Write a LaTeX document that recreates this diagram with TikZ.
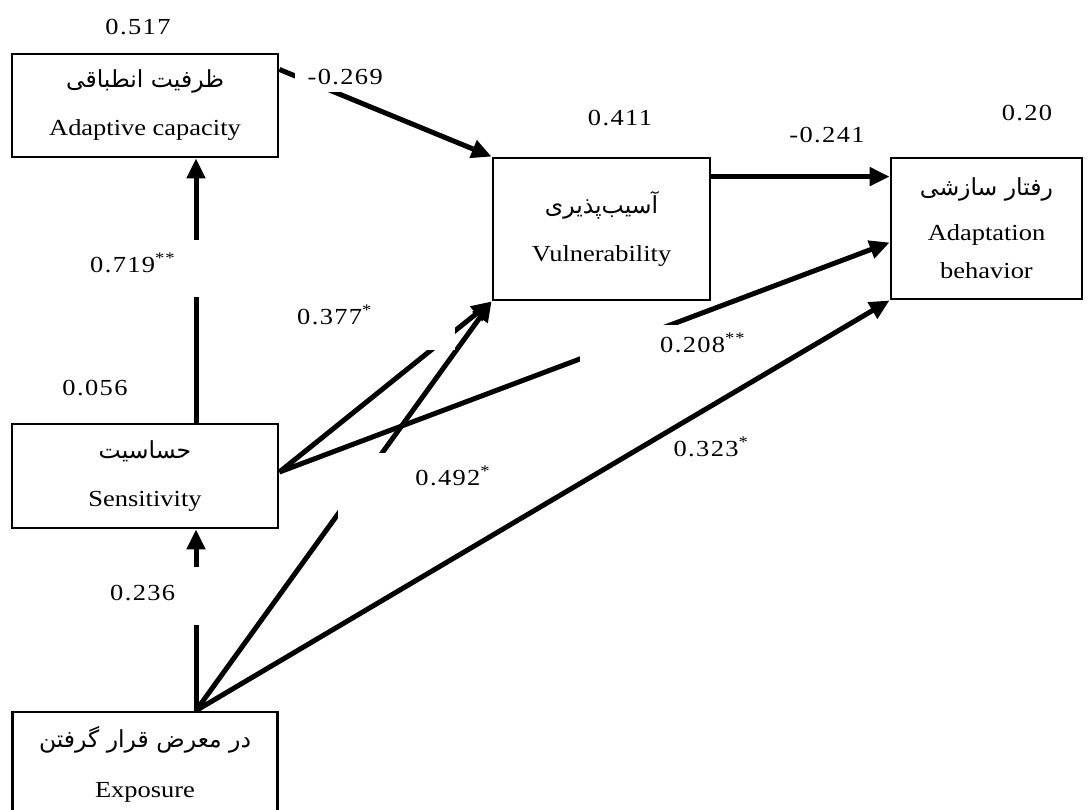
\documentclass[tikz,border=0pt]{standalone}
\usepackage{fontspec}
\setmainfont{Liberation Serif}[FakeStretch=1.15]
\newfontfamily\farsi[Script=Arabic]{DejaVu Sans}
\TeXXeTstate=1
\usetikzlibrary{arrows.meta}

\newcommand{\fa}[1]{{\farsi\fontsize{23.5}{28}\selectfont\beginR #1\endR}}
\newcommand{\boxfont}{\fontsize{23}{28}\selectfont}
\newcommand{\coeffont}{\fontsize{23}{28}\selectfont\addfontfeature{LetterSpace=6}}

\tikzset{
  box/.style={draw, line width=2.8pt, align=center, inner sep=0pt, font=\boxfont},
  coef/.style={inner sep=0pt, font=\coeffont},
  mask/.style={coef, fill=white, anchor=north west},
  arr/.style={line width=5pt, -{Triangle[length=20pt,width=18pt]}},
}

\begin{document}
\begin{tikzpicture}[x=1pt, y=-1pt]
      \useasboundingbox (0,0) rectangle (1089,810);
      % constructs
      \node[box, minimum width=266pt, minimum height=103pt] (adapt) at (145,105.5)
        {\fa{ظرفیت انطباقی}\\[20pt]Adaptive capacity};
      \node[box, minimum width=217pt, minimum height=142pt] (vuln) at (601.5,229)
        {\fa{آسیب‌پذیری}\\[20pt]Vulnerability};
      \node[box, minimum width=191pt, minimum height=141pt] (behav) at (986.5,228.5)
        {\fa{رفتار سازشی}\\[17pt]Adaptation\\[10pt]behavior};
      \node[box, minimum width=266pt, minimum height=104pt] (sens) at (145,476)
        {\fa{حساسیت}\\[20pt]Sensitivity};
      \node[box, minimum width=265pt, minimum height=104pt] (expo) at (145,764)
        {\fa{در معرض قرار گرفتن}\\[22pt]Exposure};
      \coordinate (apex) at ([xshift=51pt]expo.north);
      % paths
      \begin{scope}[arr]
        \draw (adapt.15) to (vuln.north west);
        \draw ([yshift=-20pt]vuln.north east) to ([yshift=-20pt]behav.north west);
        \draw ([yshift=4pt]sens.east) to (vuln.south west);
        \draw ([yshift=4pt]sens.east) to ([yshift=-14pt]behav.west);
        \draw (apex |- sens.north) to (apex |- adapt.south);
        \draw (apex) to (apex |- sens.south);
        \draw (apex) to (vuln.south west);
        \draw (apex) to (behav.south west);
      \end{scope}
      % coefficients and R2
      \node[coef] (r2adapt) at (138,27) {0.517};
      \node[coef] (r2vuln) at (620,118) {0.411};
      \node[coef] (r2behav) at (1027,113) {0.20};
      \node[coef] (r2sens) at (95,388) {0.056};
      \node[coef] (bvb) at (827,135) {-0.241};
      \node[coef] (beb) at (711,447) {0.323\textsuperscript{*}};
      \node[mask, text width=100pt, align=center, text height=26pt, text depth=8pt] (bav) at (295,58) {-0.269};
      \node[mask, inner xsep=10pt, text width=105pt, align=left, text height=32pt, text depth=25pt] (bsa) at (80,240) {0.719\textsuperscript{**}};
      \node[mask, inner xsep=4pt, text width=154pt, align=left, text height=34pt, text depth=26pt] (bsv) at (293,290) {0.377\textsuperscript{*}};
      \node[mask, inner xsep=4pt, text width=148pt, align=right, text height=32pt, text depth=43pt] (bev) at (338,453) {0.492\textsuperscript{*}};
      \node[mask, text width=165pt, align=right, text height=27pt, text depth=23pt] (bsb) at (580,325) {0.208\textsuperscript{**}};
      \node[mask, inner xsep=5pt, text width=90pt, align=left, text height=33pt, text depth=25pt] (bes) at (105,567) {0.236};
    \end{tikzpicture}
\end{document}
